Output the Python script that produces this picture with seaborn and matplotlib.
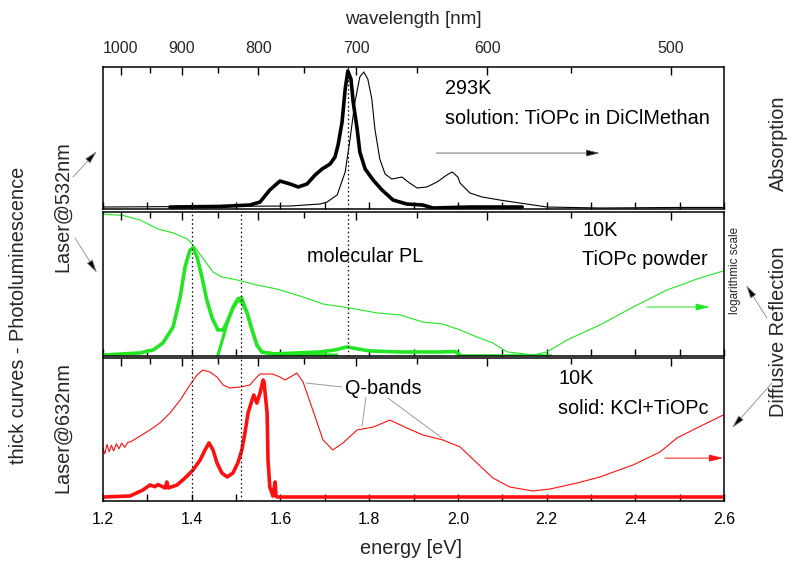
import numpy as np
import pandas as pd
import matplotlib
matplotlib.use("Agg")
import matplotlib.pyplot as plt
import seaborn as sns
from matplotlib.lines import Line2D
from matplotlib.patches import FancyArrowPatch
from matplotlib.ticker import MultipleLocator, FixedLocator, NullFormatter, FormatStrFormatter

sns.set_theme(style="white")
plt.rcParams["font.family"] = ["Liberation Sans", "DejaVu Sans"]

# ---------------- spectra (energy in eV, normalised intensity) ----------------
# 293 K solution: absorption (thin) and photoluminescence (thick)
sol_abs_e = [1.200, 1.419, 1.622, 1.689, 1.705, 1.728, 1.746, 1.757, 1.768, 1.779, 1.788,
             1.797, 1.806, 1.813, 1.824, 1.836, 1.851, 1.874, 1.888, 1.908, 1.930, 1.953,
             1.975, 1.987, 2.000, 2.005, 2.027, 2.054, 2.095, 2.140, 2.201, 2.320, 2.501, 2.598]
sol_abs_i = [0.014, 0.018, 0.021, 0.035, 0.049, 0.099, 0.261, 0.493, 0.754, 0.930, 0.965,
             0.915, 0.775, 0.563, 0.352, 0.246, 0.211, 0.225, 0.190, 0.148, 0.155, 0.190,
             0.239, 0.261, 0.225, 0.183, 0.113, 0.085, 0.063, 0.042, 0.014, 0.007, 0.011, 0.011]

sol_pl_e = [1.351, 1.464, 1.531, 1.554, 1.576, 1.599, 1.622, 1.640, 1.660, 1.678, 1.694,
            1.712, 1.723, 1.730, 1.739, 1.746, 1.752, 1.759, 1.764, 1.773, 1.779, 1.791,
            1.809, 1.829, 1.854, 1.885, 1.921, 1.944, 2.027, 2.145]
sol_pl_i = [0.014, 0.018, 0.028, 0.049, 0.134, 0.197, 0.176, 0.155, 0.176, 0.239, 0.282,
            0.317, 0.366, 0.451, 0.613, 0.845, 0.972, 0.915, 0.754, 0.563, 0.401, 0.282,
            0.204, 0.134, 0.063, 0.035, 0.028, 0.007, 0.014, 0.014]

# 10 K TiOPc powder: diffuse reflection (thin, log scale) and PL (thick)
pow_ref_e = [1.200, 1.245, 1.283, 1.324, 1.358, 1.389, 1.403, 1.425, 1.448, 1.468, 1.502,
             1.547, 1.592, 1.651, 1.696, 1.757, 1.818, 1.870, 1.921, 1.966, 2.005, 2.043,
             2.079, 2.111, 2.133, 2.169, 2.201, 2.246, 2.320, 2.395, 2.471, 2.546, 2.598]
pow_ref_i = [0.986, 0.976, 0.945, 0.882, 0.855, 0.815, 0.771, 0.681, 0.583, 0.549, 0.528,
             0.493, 0.465, 0.410, 0.361, 0.333, 0.299, 0.285, 0.236, 0.222, 0.181, 0.132,
             0.090, 0.028, 0.021, 0.007, 0.028, 0.111, 0.215, 0.340, 0.458, 0.542, 0.590]

pow_pl_e = [1.200, 1.283, 1.313, 1.335, 1.358, 1.374, 1.385, 1.396, 1.403, 1.412, 1.423,
            1.434, 1.446, 1.459, 1.471, 1.482, 1.493, 1.504, 1.513, 1.525, 1.536, 1.547,
            1.558, 1.583, 1.689, 1.723, 1.750, 1.775, 1.802, 1.870, 1.960, 1.994, 2.005]
pow_pl_i = [0.007, 0.021, 0.042, 0.090, 0.201, 0.410, 0.618, 0.736, 0.750, 0.688, 0.549,
            0.389, 0.264, 0.181, 0.181, 0.250, 0.333, 0.389, 0.375, 0.299, 0.181, 0.076,
            0.028, 0.014, 0.028, 0.042, 0.063, 0.049, 0.035, 0.028, 0.028, 0.031, 0.007]
pow_pl_tail_e = [2.005, 2.210]
pow_pl_tail_i = [0.007, 0.007]

pow_pl2_e = [1.459, 1.470, 1.482, 1.493, 1.504, 1.513, 1.525, 1.536, 1.547, 1.558, 1.600, 1.727]
pow_pl2_i = [0.007, 0.120, 0.250, 0.340, 0.400, 0.405, 0.299, 0.181, 0.076, 0.028, 0.010, 0.007]

# 10 K KCl + TiOPc: diffuse reflection (thin) and PL (thick)
kcl_ref_e = [1.200, 1.204, 1.209, 1.214, 1.219, 1.224, 1.230, 1.236, 1.242, 1.249, 1.256,
             1.263, 1.306, 1.328, 1.351, 1.374, 1.396, 1.412, 1.425, 1.441, 1.457, 1.471,
             1.486, 1.509, 1.531, 1.547, 1.554, 1.583, 1.599, 1.610, 1.626, 1.637, 1.651,
             1.673, 1.696, 1.718, 1.741, 1.773, 1.809, 1.847, 1.885, 1.921, 1.966, 2.005,
             2.043, 2.079, 2.117, 2.169, 2.208, 2.269, 2.320, 2.395, 2.456, 2.494, 2.530,
             2.575, 2.598]
kcl_ref_i = [0.370, 0.330, 0.395, 0.345, 0.390, 0.350, 0.400, 0.365, 0.405, 0.375, 0.410,
             0.415, 0.497, 0.545, 0.615, 0.706, 0.811, 0.881, 0.916, 0.902, 0.867, 0.811,
             0.790, 0.797, 0.811, 0.867, 0.888, 0.888, 0.867, 0.846, 0.874, 0.895, 0.832,
             0.636, 0.427, 0.357, 0.406, 0.497, 0.517, 0.566, 0.510, 0.462, 0.427, 0.378,
             0.266, 0.161, 0.098, 0.070, 0.084, 0.126, 0.168, 0.252, 0.343, 0.441, 0.497,
             0.566, 0.601]

kcl_pl_e = [1.202, 1.261, 1.290, 1.306, 1.317, 1.324, 1.340, 1.344, 1.347, 1.367, 1.385,
            1.403, 1.419, 1.430, 1.439, 1.448, 1.457, 1.468, 1.480, 1.493, 1.504, 1.513,
            1.520, 1.527, 1.536, 1.540, 1.547, 1.554, 1.561, 1.563, 1.570, 1.572, 1.576,
            1.583, 1.588, 1.590, 1.592, 2.600]
kcl_pl_i = [0.028, 0.035, 0.077, 0.112, 0.100, 0.115, 0.091, 0.133, 0.091, 0.112, 0.161,
            0.217, 0.287, 0.357, 0.406, 0.357, 0.266, 0.196, 0.168, 0.196, 0.266, 0.357,
            0.476, 0.615, 0.706, 0.741, 0.685, 0.755, 0.846, 0.832, 0.615, 0.287, 0.098,
            0.035, 0.133, 0.035, 0.028, 0.028]

# axis ticks
energy_labels = [1.2, 1.4, 1.6, 1.8, 2.0, 2.2, 2.4, 2.6]
wl_major = [1000, 900, 800, 700, 600, 500]
wl_minor = [950, 850, 750, 650, 550]
marker_lines = {"top": [1.752], "mid": [1.400, 1.511, 1.752], "bot": [1.400, 1.511]}

GREEN = "#22e622"
RED = "#ff1010"
W, H = 787, 561


def fig_xy(x, y):
    return x / W, 1 - y / H


fig = plt.figure(figsize=(W / 100, H / 100), dpi=100)
L, Wd = 103 / W, 621 / W
ax_top = fig.add_axes([L, 1 - 209 / H, Wd, 142 / H])
ax_mid = fig.add_axes([L, 1 - 356 / H, Wd, 144 / H])
ax_bot = fig.add_axes([L, 1 - 501 / H, Wd, 143 / H])


def line(ax, e, i, color, lw):
    df = pd.DataFrame({"energy": e, "intensity": i})
    sns.lineplot(data=df, x="energy", y="intensity", ax=ax, color=color,
                 linewidth=lw, estimator=None, sort=False, legend=False)


line(ax_top, sol_abs_e, sol_abs_i, "black", 0.8)
line(ax_top, sol_pl_e, sol_pl_i, "black", 2.6)
line(ax_mid, pow_ref_e, pow_ref_i, GREEN, 0.8)
line(ax_mid, pow_pl_e, pow_pl_i, GREEN, 2.6)
line(ax_mid, pow_pl_tail_e, pow_pl_tail_i, GREEN, 1.2)
line(ax_mid, pow_pl2_e, pow_pl2_i, GREEN, 2.2)
line(ax_bot, kcl_ref_e, kcl_ref_i, RED, 0.8)
line(ax_bot, kcl_pl_e, kcl_pl_i, RED, 2.6)

for key, ax in (("top", ax_top), ("mid", ax_mid), ("bot", ax_bot)):
    ax.set_xlim(1.2, 2.6)
    ax.set_ylim(0, 1)
    ax.set_xlabel("")
    ax.set_ylabel("")
    ax.set_yticks([])
    for s in ax.spines.values():
        s.set_visible(True)
        s.set_color("black")
        s.set_linewidth(1.1)
    for e in marker_lines[key]:
        ax.axvline(e, color="black", lw=0.9, ls=(0, (1.2, 2.2)))
    ax.xaxis.set_major_locator(FixedLocator(energy_labels))
    ax.xaxis.set_minor_locator(MultipleLocator(0.1))
    ax.xaxis.set_major_formatter(FormatStrFormatter("%.1f"))
    ax.tick_params(axis="x", which="both", direction="in", bottom=True, top=False,
                   length=5, width=1.0, color="black", labelsize=11.5, pad=8,
                   labelcolor="black", labelbottom=(key == "bot"))
    # wavelength scale on the top edge
    axt = ax.twiny()
    axt.set_xlim(1.2, 2.6)
    axt.set_xticks([1240 / w for w in wl_major])
    axt.set_xticklabels([str(w) for w in wl_major])
    axt.set_xticks([1240 / w for w in wl_minor], minor=True)
    axt.xaxis.set_minor_formatter(NullFormatter())
    axt.tick_params(axis="x", which="major", direction="in", length=6, width=1.0,
                    color="black", labelsize=11.5, pad=8, labeltop=(key == "top"))
    axt.tick_params(axis="x", which="minor", direction="in", length=4, width=1.0,
                    color="black")
    axt.set_yticks([])
    for s in axt.spines.values():
        s.set_visible(False)

# arrows pointing to the right-hand scales
arrow_style = "-|>,head_length=0.6,head_width=0.15"
ax_top.annotate("", xy=(2.320, 0.394), xytext=(1.951, 0.394),
                arrowprops=dict(arrowstyle=arrow_style, color="#555555", fc="black",
                                lw=0.6, mutation_scale=14, shrinkA=0, shrinkB=0))
ax_mid.annotate("", xy=(2.568, 0.340), xytext=(2.426, 0.340),
                arrowprops=dict(arrowstyle=arrow_style, color=GREEN, lw=0.7,
                                mutation_scale=14, shrinkA=0, shrinkB=0))
ax_bot.annotate("", xy=(2.598, 0.300), xytext=(2.467, 0.300),
                arrowprops=dict(arrowstyle=arrow_style, color=RED, lw=0.7,
                                mutation_scale=14, shrinkA=0, shrinkB=0))

# panel captions
fs = 14.3
for x, y, s in [(445, 89, "293K"), (445, 118, "solution: TiOPc in DiClMethan"),
                (582, 231, "10K"), (582, 260, "TiOPc powder"),
                (307, 256, "molecular PL"),
                (558, 379, "10K"), (558, 408, "solid: KCl+TiOPc"),
                (345, 389, "Q-bands")]:
    fig.text(*fig_xy(x, y), s, fontsize=fs, ha="left", va="center", color="black")

# Q-band leader lines
for (x0, y0), (x1, y1) in [((342, 387), (306, 383)), ((366, 397), (362, 426)),
                           ((388, 398), (442, 438))]:
    a, b = fig_xy(x0, y0)
    c, d = fig_xy(x1, y1)
    fig.add_artist(Line2D([a, c], [b, d], transform=fig.transFigure,
                          color="#999999", lw=0.7))

# axis titles
fig.text(*fig_xy(413, 20), "wavelength [nm]", fontsize=13.5, ha="center", va="center")
fig.text(*fig_xy(411, 548), "energy [eV]", fontsize=14.3, ha="center", va="center")
fig.text(*fig_xy(19, 315), "thick curves - Photoluminescence", fontsize=14.3,
         rotation=90, ha="center", va="center")
fig.text(*fig_xy(63, 207), "Laser@532nm", fontsize=14.3, rotation=90, ha="center", va="center")
fig.text(*fig_xy(63, 428), "Laser@632nm", fontsize=14.3, rotation=90, ha="center", va="center")
fig.text(*fig_xy(778, 143), "Absorption", fontsize=14.3, rotation=90, ha="center", va="center")
fig.text(*fig_xy(778, 332), "Diffusive Reflection", fontsize=14.3, rotation=90,
         ha="center", va="center")
fig.text(*fig_xy(735, 270), "logarithmic scale", fontsize=8.4, rotation=90,
         ha="center", va="center")

# pointer arrows outside the panels
for (x0, y0), (x1, y1) in [((73, 177), (97, 151)), ((75, 238), (97, 273)),
                           ((767, 318), (746, 285)), ((772, 383), (732, 428))]:
    fig.add_artist(FancyArrowPatch(fig_xy(x0, y0), fig_xy(x1, y1),
                                   transform=fig.transFigure, arrowstyle=arrow_style,
                                   mutation_scale=14, lw=0.6, color="#888888",
                                   fc="black", shrinkA=0, shrinkB=0))

fig.savefig("out.png", dpi=100)
